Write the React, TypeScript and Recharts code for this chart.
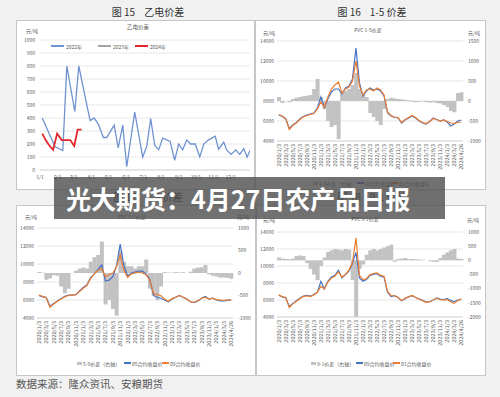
import { Bar, CartesianGrid, ComposedChart, Line, LineChart, XAxis, YAxis } from "recharts";

const FONT = '"Noto Sans CJK SC", "Noto Sans", sans-serif';
const TICK = { fontSize: 5, fill: "#595959", fontFamily: FONT };
const BLUE = "#4472c4";
const ORANGE = "#ed7d31";
const GREY_BAR = "#c2c2c2";

// 图15 乙电价差
const monthStarts = [0, 31, 59, 90, 120, 151, 181, 212, 243, 273, 304, 334];
const monthLabels = ["1/1", "2/1", "3/1", "4/1", "5/1", "6/1", "7/1", "8/1", "9/1", "10/1", "11/1", "12/1"];
const yiDianTicks = [0, 100, 200, 300, 400, 500, 600, 700, 800, 900, 1000];
const days2022 = [4, 26, 40, 47, 61, 68, 83, 88, 95, 103, 111, 117, 130, 137, 145, 152, 166, 180, 187, 194, 201, 208, 215, 228, 236, 243, 250, 257, 264, 272, 280, 287, 295, 307, 313, 322, 327, 335, 343, 350, 357, 363, 368];
const spread2022 = [400, 180, 150, 800, 450, 800, 480, 380, 400, 345, 250, 250, 345, 170, 345, 25, 445, 100, 180, 395, 190, 155, 245, 220, 75, 200, 155, 230, 200, 200, 100, 200, 230, 260, 160, 215, 155, 120, 155, 120, 165, 100, 150];
const days2024 = [4, 10, 16, 23, 30, 38, 45, 53, 60, 66, 73];
const spread2024 = [280, 230, 190, 155, 280, 230, 230, 230, 185, 310, 310];

// PVC 价差图：月度取样 2020/1 - 2024/4
const pvcDates: string[] = [];
for (let y = 2020; y <= 2024; y++) {
  for (let m = 1; m <= 12; m++) {
    if (y === 2024 && m > 4) break;
    pvcDates.push(`${y}/${m}/3`);
  }
}
pvcDates.push("2024/4/26");

const priceTicks = [4000, 6000, 8000, 10000, 12000, 14000];

// 图16 1-5价差
const c15Close01 = [6600, 6450, 6200, 5250, 5600, 5850, 6200, 6450, 6600, 6700, 6800, 7300, 8400, 7300, 8200, 8900, 9200, 9200, 8700, 9300, 9500, 10200, 13300, 9800, 8500, 9000, 9300, 9100, 9200, 9000, 8500, 6800, 6500, 6350, 6300, 5800, 6100, 6300, 6500, 6300, 6000, 5800, 5700, 5950, 6300, 6150, 6000, 6100, 5900, 5500, 5700, 6000, 6100];
const c15Close05 = [6650, 6500, 6250, 5150, 5550, 5800, 6150, 6400, 6550, 6650, 6750, 7200, 7900, 7350, 8400, 9200, 9600, 9900, 8800, 9200, 9400, 10000, 12000, 9500, 8600, 9100, 9200, 9000, 9300, 9100, 8600, 6900, 6550, 6400, 6350, 5850, 6150, 6350, 6550, 6350, 6050, 5850, 5750, 5950, 6250, 6150, 6000, 6100, 5950, 5800, 5750, 5850, 5900];
const c15Spread = [100, -50, 0, -30, 50, 80, 100, 120, 130, 150, 300, 550, 100, -200, -500, -650, -600, -950, 200, 250, 300, 400, 700, 300, 150, 100, -300, -400, -500, -600, -200, 50, 80, 60, 50, 40, 30, 20, -20, -30, -20, -10, -30, -40, -30, -50, -60, -100, -150, -250, -280, 200, 220];
const c15RightTicks = [-1000, -500, 0, 500, 1000, 1500];

// 图17 5-9价差
const c59Close05 = [6500, 6350, 6300, 5300, 5600, 5900, 6150, 6400, 6550, 6550, 6600, 7000, 7400, 7700, 8500, 8900, 9400, 9900, 8100, 8200, 8600, 9800, 12200, 9800, 8700, 9000, 9100, 9200, 9200, 8900, 8300, 6500, 6300, 6200, 6000, 5800, 6100, 6300, 6500, 6300, 6100, 5800, 5700, 5900, 6200, 6400, 6100, 6200, 6000, 5900, 5900, 5950, 6000];
const c59Close09 = [6550, 6400, 6250, 5200, 5550, 5850, 6100, 6350, 6500, 6550, 6600, 6950, 7300, 7600, 8400, 8900, 9300, 9500, 8600, 8800, 9000, 9700, 11000, 9300, 8500, 8900, 9000, 9100, 9000, 8800, 8200, 6700, 6600, 6500, 6100, 5850, 6150, 6300, 6500, 6300, 6100, 5800, 5750, 5950, 6200, 6300, 6100, 6200, 6050, 6000, 5950, 6000, 6050];
const c59Spread = [20, 10, -150, -120, -50, -60, -300, -450, -350, 0, 50, 100, 120, 100, 250, 350, 400, 700, -700, -600, -800, -950, 500, 250, 150, 150, 100, 150, 150, 300, -350, -500, -600, -300, 20, 10, 10, 20, 10, 20, 0, 30, 100, 120, 130, 180, -30, -60, -80, -100, -100, -110, -130];
const c59RightTicks = [-1000, -500, 0, 500, 1000];

// 图18 9-1价差
const c91Close09 = [6550, 6350, 6250, 5250, 5600, 5900, 6200, 6450, 6550, 6450, 6650, 6900, 8200, 7300, 8200, 8700, 8900, 9500, 8600, 9000, 9400, 10300, 11600, 8600, 8200, 8400, 8900, 9000, 9100, 8800, 8700, 6900, 6400, 6500, 6300, 5900, 6150, 6350, 6500, 6300, 6100, 5950, 5750, 5800, 6000, 6250, 6100, 6050, 6150, 5950, 5800, 6000, 6100];
const c91Close01 = [6600, 6400, 6300, 5100, 5550, 5850, 6150, 6400, 6500, 6400, 6600, 6900, 7600, 7300, 8100, 8600, 8800, 9300, 8700, 9000, 9500, 10400, 13300, 8900, 8400, 8500, 9000, 9100, 9200, 8900, 8800, 7000, 6500, 6500, 6300, 5950, 6200, 6400, 6550, 6300, 6100, 5950, 5700, 5800, 6000, 6200, 6050, 6000, 6050, 5800, 5600, 5950, 6100];
const c91Spread = [100, 60, 50, 40, 60, 150, 170, 150, -100, -300, -500, -700, -200, 100, 300, 350, 400, 380, 350, 400, 380, -700, -2000, -300, -150, 200, 350, 400, 350, 400, 450, 500, 550, -50, 50, 60, 80, 40, 50, 40, 30, 20, 0, -30, -50, -60, 80, 200, 280, 350, 400, 60, 50];
const c91RightTicks = [-2000, -1500, -1000, -500, 0, 500, 1000];

function Txt({ x, y, size = 5, color = "#595959", center = false, children, weight = 400 }: any) {
  return (
    <div
      style={{
        position: "absolute",
        left: x,
        top: y,
        transform: center ? "translate(-50%, -50%)" : "translateY(-50%)",
        fontSize: size,
        lineHeight: 1,
        color,
        fontWeight: weight,
        whiteSpace: "pre",
      }}
    >
      {children}
    </div>
  );
}

function FigureTitle({ x, y, num, name }: { x: number; y: number; num: string; name: string }) {
  return (
    <div
      style={{
        position: "absolute",
        left: x,
        top: y,
        transform: "translate(-50%, -50%)",
        fontSize: 10,
        lineHeight: 1,
        color: "#333",
        whiteSpace: "nowrap",
      }}
    >
      <span style={{ marginRight: 9 }}>图 {num}</span>
      <span>{name}</span>
    </div>
  );
}

function Panel({ left, top, width, height, children }: any) {
  return (
    <div
      style={{
        position: "absolute",
        left,
        top,
        width,
        height,
        background: "#fff",
        boxShadow: "inset 0 0 0 1px #c6c6c6",
      }}
    >
      {children}
    </div>
  );
}

function YiDianPanel() {
  const s2022 = days2022.map((d, i) => ({ day: d, v: spread2022[i] }));
  const s2024 = days2024.map((d, i) => ({ day: d, v: spread2024[i] }));
  const legend = [
    { x: 35, name: "2022年", color: "#6f93d0", w: 1.2 },
    { x: 82, name: "2023年", color: "#a5a5a5", w: 1.2 },
    { x: 119, name: "2024年", color: "#e3262c", w: 1.6 },
  ];
  return (
    <Panel left={16} top={20} width={239} height={170}>
      <Txt x={122} y={8} center size={5.5}>乙电价差</Txt>
      <Txt x={10} y={10} size={5}>元/吨</Txt>
      {legend.map((l) => (
        <div key={l.name} style={{ position: "absolute", left: l.x, top: 23, height: 6, display: "flex", alignItems: "center", fontSize: 5, color: "#595959", lineHeight: 1 }}>
          <span style={{ display: "inline-block", width: 13, height: l.w, background: l.color, marginRight: 2 }} />
          {l.name}
        </div>
      ))}
      <div style={{ position: "absolute", left: 0, top: 0 }}>
        <LineChart width={239} height={170} margin={{ top: 20, right: 5, bottom: 0, left: 0 }}>
          <CartesianGrid vertical={false} stroke="#e8e8e8" />
          <XAxis
            type="number"
            dataKey="day"
            domain={[0, 368]}
            ticks={monthStarts}
            tickFormatter={(v: number) => monthLabels[monthStarts.indexOf(v)]}
            tick={TICK}
            tickLine={false}
            tickSize={2}
            tickMargin={3}
            axisLine={{ stroke: "#d9d9d9" }}
            height={20}
            allowDataOverflow
          />
          <YAxis
            type="number"
            domain={[0, 1000]}
            ticks={yiDianTicks}
            tick={TICK}
            tickLine={false}
            axisLine={false}
            tickSize={2}
            tickMargin={3}
            width={24}
            interval={0}
          />
          <Line data={s2022} dataKey="v" stroke="#6f93d0" strokeWidth={1.3} dot={false} isAnimationActive={false} />
          <Line data={s2024} dataKey="v" stroke="#e3262c" strokeWidth={1.8} dot={false} isAnimationActive={false} />
        </LineChart>
      </div>
    </Panel>
  );
}

function DateTick({ x, y, payload }: any) {
  return (
    <text
      x={x}
      y={y}
      transform={`rotate(-90 ${x} ${y})`}
      textAnchor="end"
      dominantBaseline="central"
      fontSize={5.5}
      fill="#595959"
      fontFamily={FONT}
    >
      {payload.value}
    </text>
  );
}

type SpreadProps = {
  left: number;
  top: number;
  width: number;
  height: number;
  plotLeft: number;
  plotRight: number;
  plotTop: number;
  plotBottom: number;
  title: string;
  titleX: number;
  titleY: number;
  unitLeftX: number;
  unitRightX: number;
  unitY: number;
  legendY: number;
  legendX: number[];
  names: string[];
  lineA: number[];
  lineB: number[];
  spread: number[];
  rightTicks: number[];
};

function SpreadPanel(p: SpreadProps) {
  const data = pvcDates.map((date, i) => ({ date, spread: p.spread[i], a: p.lineA[i], b: p.lineB[i] }));
  const xAxisH = 36;
  const mTop = p.plotTop - p.top;
  const mBottom = p.height - (p.plotBottom - p.top) - xAxisH;
  const colors = [GREY_BAR, BLUE, ORANGE];
  const rt = p.rightTicks;
  return (
    <Panel left={p.left} top={p.top} width={p.width} height={p.height}>
      <Txt x={p.titleX - p.left} y={p.titleY - p.top} center size={5}>{p.title}</Txt>
      <Txt x={p.unitLeftX - p.left} y={p.unitY - p.top} size={5}>元/吨</Txt>
      <Txt x={p.unitRightX - p.left} y={p.unitY - p.top} size={5}>元/吨</Txt>
      <div style={{ position: "absolute", left: 0, top: 0 }}>
        <ComposedChart
          width={p.width}
          height={p.height}
          data={data}
          margin={{ top: mTop, right: 0, bottom: mBottom, left: 0 }}
          barCategoryGap={0}
          barGap={0}
        >
          <CartesianGrid vertical={false} stroke="#e6e6e6" yAxisId="left" />
          <XAxis
            dataKey="date"
            interval={1}
            tick={<DateTick />}
            tickLine={false}
            tickSize={2}
            tickMargin={1}
            axisLine={{ stroke: "#d9d9d9" }}
            height={xAxisH}
          />
          <YAxis
            yAxisId="left"
            domain={[4000, 14000]}
            ticks={priceTicks}
            interval={0}
            tick={TICK}
            tickLine={false}
            axisLine={false}
            tickSize={1}
            tickMargin={2}
            width={p.plotLeft - p.left}
          />
          <YAxis
            yAxisId="right"
            orientation="right"
            domain={[rt[0], rt[rt.length - 1]]}
            ticks={rt}
            interval={0}
            tick={TICK}
            tickLine={false}
            axisLine={false}
            tickSize={2}
            tickMargin={3}
            width={p.left + p.width - p.plotRight}
          />
          <Bar yAxisId="right" dataKey="spread" fill={GREY_BAR} isAnimationActive={false} />
          <Line yAxisId="left" dataKey="a" stroke={BLUE} strokeWidth={1.2} dot={false} isAnimationActive={false} />
          <Line yAxisId="left" dataKey="b" stroke={ORANGE} strokeWidth={1.2} dot={false} isAnimationActive={false} />
        </ComposedChart>
      </div>
      {p.legendX.map((lx, i) => (
        <div
          key={i}
          style={{
            position: "absolute",
            left: lx - p.left,
            top: p.legendY - p.top - 3,
            height: 6,
            display: "flex",
            alignItems: "center",
            fontSize: 5,
            lineHeight: 1,
            color: "#595959",
            whiteSpace: "nowrap",
          }}
        >
          <span style={{ display: "inline-block", width: i === 0 ? 5 : 7, height: i === 0 ? 3 : 1.2, background: colors[i], marginRight: 1 }} />
          {p.names[i]}
        </div>
      ))}
    </Panel>
  );
}

export default function App() {
  return (
    <div
      style={{
        position: "absolute",
        left: 0,
        top: 0,
        width: 500,
        height: 397,
        background: "#f1f1f1",
        overflow: "hidden",
        fontFamily: FONT,
      }}
    >
      <FigureTitle x={148} y={12} num="15" name="乙电价差" />
      <FigureTitle x={372} y={12} num="16" name="1-5 价差" />
      <FigureTitle x={148} y={197} num="17" name="5-9 价差" />
      <FigureTitle x={372} y={197} num="18" name="9-1 价差" />

      <YiDianPanel />

      <SpreadPanel
        left={255} top={20} width={231} height={170}
        plotLeft={277} plotRight={463} plotTop={41} plotBottom={141}
        title="PVC 1-5价差" titleX={368} titleY={29}
        unitLeftX={263} unitRightX={468} unitY={32}
        legendY={183} legendX={[313, 357, 391]}
        names={["1-5价差（右轴）", "01合约收盘价", "05合约收盘价"]}
        lineA={c15Close01} lineB={c15Close05} spread={c15Spread} rightTicks={c15RightTicks}
      />
      <SpreadPanel
        left={16} top={205} width={240} height={171}
        plotLeft={37} plotRight={233} plotTop={228} plotBottom={318}
        title="PVC 5-9价差" titleX={132} titleY={216}
        unitLeftX={25} unitRightX={237} unitY={216}
        legendY={363} legendX={[77, 124, 162]}
        names={["5-9价差（右轴）", "05合约收盘价", "09合约收盘价"]}
        lineA={c59Close05} lineB={c59Close09} spread={c59Spread} rightTicks={c59RightTicks}
      />
      <SpreadPanel
        left={256} top={205} width={230} height={171}
        plotLeft={277} plotRight={463} plotTop={232} plotBottom={317}
        title="PVC 9-1价差" titleX={365} titleY={218}
        unitLeftX={263} unitRightX={467} unitY={219}
        legendY={363} legendX={[311, 356, 393]}
        names={["9-1价差（右轴）", "09合约收盘价", "01合约收盘价"]}
        lineA={c91Close09} lineB={c91Close01} spread={c91Spread} rightTicks={c91RightTicks}
      />

      <div style={{ position: "absolute", left: 16, top: 379, fontSize: 10.5, lineHeight: 1, color: "#555" }}>
        数据来源：隆众资讯、安粮期货
      </div>

      <div
        style={{
          position: "absolute",
          left: 54,
          top: 177,
          width: 391,
          height: 42,
          background: "rgba(78, 78, 78, 0.8)",
        }}
      >
        <div
          style={{
            position: "absolute",
            left: 12,
            top: 21,
            transform: "translateY(-50%)",
            fontSize: 25,
            fontWeight: 700,
            lineHeight: 1,
            color: "#fff",
            whiteSpace: "nowrap",
          }}
        >
          光大期货：4月27日农产品日报
        </div>
      </div>
    </div>
  );
}
